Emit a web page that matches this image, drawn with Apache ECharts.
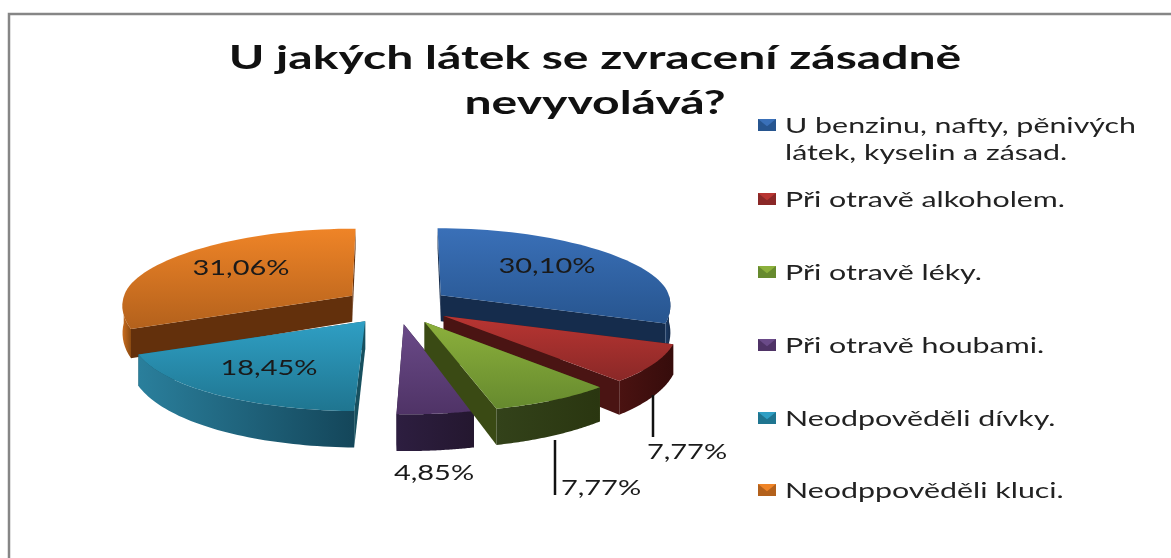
<!DOCTYPE html>
<html><head><meta charset="utf-8">
<style>html,body{margin:0;padding:0;background:#fff}#c{width:1171px;height:558px;filter:blur(0.5px)}</style>
<script src="https://cdn.jsdelivr.net/npm/echarts@6/dist/echarts.min.js"></script>
</head><body><div id="c"></div>
<script>
const titleText = 'U jakých látek se zvracení zásadně\nnevyvolává?';
const categories = ['U benzinu, nafty, pěnivých\nlátek, kyselin a zásad.','Při otravě alkoholem.','Při otravě léky.','Při otravě houbami.','Neodpověděli dívky.','Neodppověděli kluci.'];
const values = [30.10, 7.77, 7.77, 4.85, 18.45, 31.06];

// styling, indexed like the categories
const topColors = [['#3a70b8','#27558f'],['#b83532','#8a2827'],['#8cb03c','#668a2e'],['#6a4a88','#4f3366'],['#2f9fc4','#1f7590'],['#ef8427','#b3611c']];
const wallColors = ['#152c4c','#4a1413','#3a4a14','#281a38','#17505f','#63300c'];
const outerColors = [['#1d3c66','#152c4c'],['#4a1211','#360c0b'],['#33421a','#2a3610'],['#2d1e40','#24172f'],['#2a7f9c','#14465a'],['#c96c1e','#8a4a12']];
const layers = [2,4,6,5,3,1];
const labelPos = [[547,266],[687,452],[601,488],[434,473],[269,368],[241,268]];
const leaders = [null,[653,395,653,437],[555,440,555,495],null,null,null];
const legendY = [125,199,272,345,418,490];

const cx = 397, cy = 306, ex = 54, ey = 18.5, rx = 228, ryB = 67, ryF = 90, persp = 0.0011, yRef = 295;
function depth(y){ return 26 + (y - yRef) * 0.09; }
function proj(x, y){ return [cx + (x - cx) * (1 + persp * (y - yRef)), y]; }
function pt(o, th){
  const s = Math.sin(th), c = Math.cos(th);
  return proj(o[0] + rx * s, o[1] - (c > 0 ? ryB : ryF) * c);
}
function down(p){ return [p[0], p[1] + depth(p[1])]; }
const total = values.reduce((a,b)=>a+b,0);
const starts = []; values.reduce((a,v,i)=>{ starts[i]=a; return a+v; },0);
const ang = p => p / total * Math.PI * 2;

function render(params){
  const i = params.dataIndex;
  const a0 = ang(starts[i]), a1 = ang(starts[i] + values[i]), m = (a0 + a1) / 2;
  const base = [cx + ex * Math.sin(m), cy - ey * Math.cos(m)];
  const o = proj(base[0], base[1]);
  const n = 48, arc = [];
  for (let k = 0; k <= n; k++) arc.push(pt(base, a0 + (a1 - a0) * k / n));
  const z = layers[i] * 10;
  const kids = [];
  const wall = (p, q) => ({type:'polygon', z2:z, shape:{points:[p,q,down(q),down(p)]}, style:{fill:wallColors[i]}});
  kids.push(wall(o, arc[0]), wall(o, arc[n]));
  const front = [];
  arc.forEach((p,k)=>{ const t = a0 + (a1-a0)*k/n; if (Math.cos(t) <= 0.02) front.push(p); });
  if (front.length > 1) kids.push({type:'polygon', z2:z+1,
    shape:{points: front.concat(front.slice().reverse().map(down))},
    style:{fill:{type:'linear',x:0,y:0,x2:1,y2:0,colorStops:[{offset:0,color:outerColors[i][0]},{offset:1,color:outerColors[i][1]}]}}});
  kids.push({type:'polygon', z2:z+2, shape:{points:[o].concat(arc)},
    style:{fill:{type:'linear',x:0,y:0,x2:0,y2:1,colorStops:[{offset:0,color:topColors[i][0]},{offset:1,color:topColors[i][1]}]}}});
  if (leaders[i]) { const l = leaders[i];
    kids.push({type:'line', z2:z+3, shape:{x1:l[0],y1:l[1],x2:l[2],y2:l[3]}, style:{stroke:'#111',lineWidth:2.5}}); }
  kids.push({type:'text', z2:100, x:labelPos[i][0], y:labelPos[i][1], scaleX:1.38, style:{text:values[i].toFixed(2).replace('.',',')+'%', x:0, y:0,
    align:'center', verticalAlign:'middle', fill:'#1a1a1a', font:'21px Lato'}});
  return {type:'group', children:kids};
}

const legendEls = [];
categories.forEach((name,i)=>{
  const x = 758, y = legendY[i] - 6, w = 18, h = 12;
  legendEls.push({type:'rect', shape:{x,y,width:w,height:h}, style:{fill:topColors[i][1]}});
  legendEls.push({type:'polygon', shape:{points:[[x,y],[x+w,y],[x+w/2,y+h*0.6]]}, style:{fill:topColors[i][0]}});
  legendEls.push({type:'text', x:785, y:legendY[i]-13, scaleX:1.38, style:{text:name, x:0, y:0, fill:'#222', font:'22px Lato', lineHeight:27}});
});

const chart = echarts.init(document.getElementById('c'), null, {renderer:'canvas'});
chart.setOption({
  animation:false,
  backgroundColor:'#fff',
  graphic:[
    {type:'polyline', shape:{points:[[9,558],[9,14],[1171,14]]}, style:{stroke:'#868686',lineWidth:2.5,fill:null}},
    {type:'text', x:595, y:36, scaleX:1.457, style:{text:titleText, x:0, y:0, align:'center', fill:'#111', font:'bold 33px Lato', lineHeight:45}},
    ...legendEls
  ],
  series:[{type:'custom', coordinateSystem:'none', renderItem:render, data:values.map((v,i)=>[i,v])}]
});
</script></body></html>
